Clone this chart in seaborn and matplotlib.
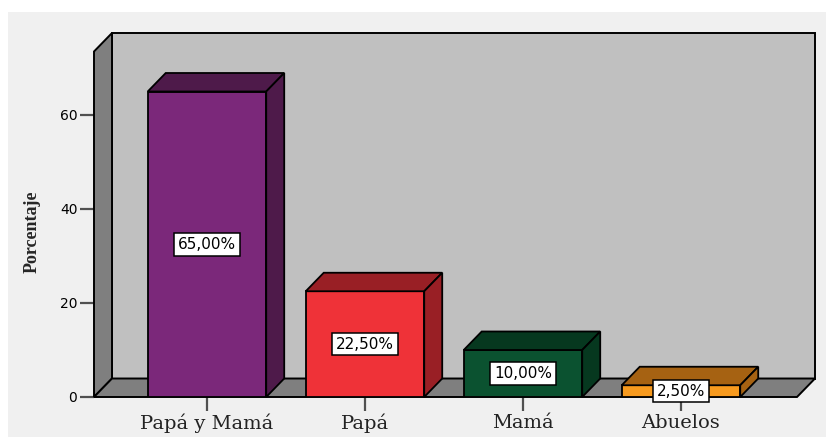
import matplotlib
matplotlib.use("Agg")
import matplotlib.pyplot as plt
from matplotlib.patches import Polygon, Rectangle
import seaborn as sns
import pandas as pd

# ---- data ----
categories = ["Papá y Mamá", "Papá", "Mamá", "Abuelos"]
values = [65.0, 22.5, 10.0, 2.5]
value_labels = ["65,00%", "22,50%", "10,00%", "2,50%"]
y_ticks = [0, 20, 40, 60]
y_label = "Porcentaje"

front_colors = ["#7B287A", "#EF3238", "#0B5230", "#F79A1E"]
dark_colors = ["#4E1A4A", "#991F25", "#06381F", "#A66212"]

sns.set_theme(style="white")
plt.rcParams["font.family"] = ["DejaVu Sans"]

W, H = 826, 437
fig = plt.figure(figsize=(W / 100, H / 100), dpi=100, facecolor="white")
bg = Rectangle((8 / W, 0), 1 - 8 / W, 1 - 12 / H, transform=fig.transFigure,
               facecolor="#F0F0F0", edgecolor="none", zorder=-10)
fig.add_artist(bg)

ax_left, ax_right, ax_top, ax_bottom = 94, 815, 33, 397
ax = fig.add_axes([ax_left / W, (H - ax_bottom) / H,
                   (ax_right - ax_left) / W, (ax_bottom - ax_top) / H])
ax.set_facecolor("none")

df = pd.DataFrame({"cat": categories, "val": values})
sns.barplot(data=df, x="cat", y="val", hue="cat", palette=front_colors,
            width=0.75, edgecolor="black", linewidth=1.3, legend=False,
            ax=ax, saturation=1)
bars = list(ax.patches)
for b in bars:
    b.set_zorder(3)

# 3D geometry (depth offset)
px_per_cat = 158.0
px_per_unit = 4.7
dx = 18 / px_per_cat
dy = 18.5 / px_per_unit
x_lo = -0.715
x_hi = x_lo + (ax_right - ax_left) / px_per_cat
y_hi = (ax_bottom - ax_top) / px_per_unit
ax.set_xlim(x_lo, x_hi)
ax.set_ylim(0, y_hi)

wall_kw = dict(edgecolor="black", linewidth=1.4, clip_on=False, joinstyle="miter")
# back wall
ax.add_patch(Polygon([(x_lo + dx, dy), (x_hi, dy), (x_hi, y_hi), (x_lo + dx, y_hi)],
                     facecolor="#C0C0C0", zorder=0.5, **wall_kw))
# left wall
ax.add_patch(Polygon([(x_lo, 0), (x_lo, y_hi - dy), (x_lo + dx, y_hi), (x_lo + dx, dy)],
                     facecolor="#7F7F7F", zorder=0.6, **wall_kw))
# floor
ax.add_patch(Polygon([(x_lo, 0), (x_hi - dx, 0), (x_hi, dy), (x_lo + dx, dy)],
                     facecolor="#7F7F7F", zorder=0.7, **wall_kw))

for p, dc, lab in zip(bars, dark_colors, value_labels):
    x0, w, h = p.get_x(), p.get_width(), p.get_height()
    x1 = x0 + w
    # top face
    ax.add_patch(Polygon([(x0, h), (x1, h), (x1 + dx, h + dy), (x0 + dx, h + dy)],
                         facecolor=dc, edgecolor="black", linewidth=1.3, zorder=3.5,
                         clip_on=False))
    # side face
    ax.add_patch(Polygon([(x1, 0), (x1 + dx, dy), (x1 + dx, h + dy), (x1, h)],
                         facecolor=dc, edgecolor="black", linewidth=1.3, zorder=3.5,
                         clip_on=False))
    ax.text(x0 + w / 2, h / 2, lab, ha="center", va="center", fontsize=11,
            color="black", zorder=5,
            bbox=dict(boxstyle="square,pad=0.25", facecolor="white",
                      edgecolor="black", linewidth=1.1))

for s in ax.spines.values():
    s.set_visible(False)

ax.set_yticks(y_ticks)
ax.set_yticklabels([str(t) for t in y_ticks], fontsize=10, color="black")
ax.set_xticks(range(len(categories)))
ax.set_xticklabels(categories, fontsize=14, family="DejaVu Serif", color="#222222")
ax.tick_params(axis="both", which="both", direction="out", length=10, width=1.6,
               color="#505050", left=True, bottom=True, pad=2)
ax.set_xlabel("")
ax.set_ylabel(y_label, fontsize=13, fontweight="bold", family="Liberation Serif",
              va="center")
ax.yaxis.set_label_coords(-0.086, 0.453)

fig.savefig("out.png", dpi=100, facecolor=fig.get_facecolor())
